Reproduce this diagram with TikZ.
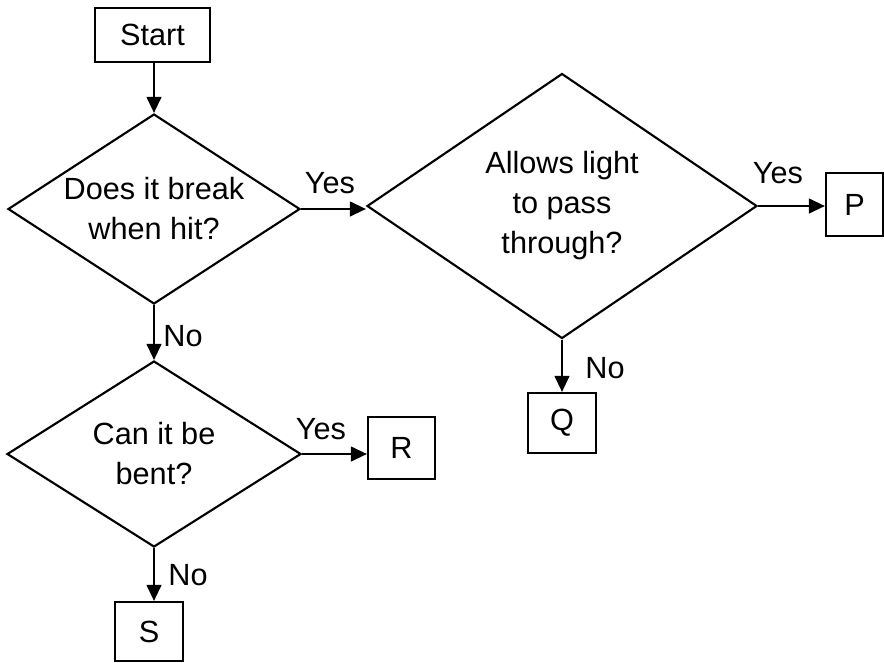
\documentclass[tikz,border=0pt]{standalone}
\usepackage{fontspec}
\setmainfont{Liberation Sans}
\usepackage{tikz}
\usetikzlibrary{shapes.geometric,arrows.meta}

\begin{document}
\begin{tikzpicture}[x=0.75pt, y=-0.75pt, line width=1.6pt]
    \tikzstyle{box} = [rectangle, draw, inner sep=0pt, font=\fontsize{23}{30}\selectfont]
    \tikzstyle{question} = [diamond, draw, inner sep=0pt, align=center, font=\fontsize{23}{30}\selectfont]
    \tikzstyle{answer} = [inner sep=0pt, font=\fontsize{23}{30}\selectfont]
    \tikzstyle{arr} = [-{Triangle[length=12pt, width=11pt]}]

    \useasboundingbox (0,0) rectangle (884,662);

    % Boxes
    \node[box, minimum width=86pt, minimum height=40.5pt] (start) at (152.5, 35) {Start};
    \node[box, minimum width=42.75pt, minimum height=47.25pt] (P) at (854.5, 204.5) {P};
    \node[box, minimum width=51pt, minimum height=45pt] (Q) at (562, 423) {Q};
    \node[box, minimum width=50.25pt, minimum height=46.5pt] (R) at (401.5, 448) {R};
    \node[box, minimum width=51pt, minimum height=44.25pt] (S) at (149, 631.5) {S};

    % Questions
    \node[question, aspect=1.54, minimum width=219pt, minimum height=142.5pt] (break) at (154, 209) {Does it break\\when hit?};
    \node[question, aspect=1.47, minimum width=292.5pt, minimum height=198.75pt] (light) at (562, 206) {Allows light\\to pass\\through?};
    \node[question, aspect=1.58, minimum width=220.5pt, minimum height=139.5pt] (bent) at (154, 454) {Can it be\\bent?};

    % Answers
    \node[answer] (yes1) at (330, 183) {Yes};
    \node[answer] (yes2) at (778, 173) {Yes};
    \node[answer] (yes3) at (321, 429) {Yes};
    \node[answer] (no1) at (183, 336) {No};
    \node[answer] (no2) at (605, 368) {No};
    \node[answer] (no3) at (188, 575) {No};

    % Connectors
    \draw[arr] (break.north |- start.south) -- (break.north);
    \draw[arr] (break.east) -- (break.east -| light.west);
    \draw[arr] (light.east) -- (light.east -| P.west);
    \draw[arr] (light.south) -- (light.south |- Q.north);
    \draw[arr] (break.south) -- (bent.north);
    \draw[arr] (bent.east) -- (bent.east -| R.west);
    \draw[arr] (bent.south) -- (bent.south |- S.north);

\end{tikzpicture}
\end{document}
